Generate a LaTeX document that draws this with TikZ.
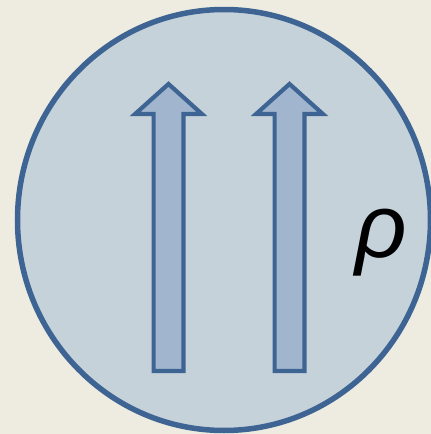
\documentclass[tikz,border=0pt]{standalone}
\usepackage{fontspec}
\newfontfamily\rhofont{Liberation Sans}
\definecolor{bgbeige}{RGB}{238,236,225}
\definecolor{ballfill}{RGB}{198,210,218}
\definecolor{ballline}{RGB}{62,100,148}
\definecolor{spinfill}{RGB}{161,182,206}
\begin{document}
\begin{tikzpicture}[x=1pt,y=-1pt]
	\path
	coordinate (ll) at (0,434)
	coordinate (ur) at (431,0)
	coordinate (ctr) at (224,220)
	coordinate (tipA) at (168.5,84)
	coordinate (tipB) at (289.5,84)
	;
	\fill[bgbeige] (0,0) rectangle (431,434);
	\useasboundingbox (0,0) rectangle (431,434);
	\filldraw[fill=ballfill, draw=ballline, line width=5.5pt]
	(ctr) ellipse [x radius=206.5, y radius=210.5];
	\filldraw[fill=spinfill, draw=ballline, line width=4.2pt, line join=miter]
	(tipA) --
	++(33.4,30) --
	++(-18.5,0) --
	++(0,257) --
	++(-29.8,0) --
	++(0,-257) --
	++(-18.5,0) -- cycle;
	\filldraw[fill=spinfill, draw=ballline, line width=4.2pt, line join=miter]
	(tipB) --
	++(33.4,30) --
	++(-18.5,0) --
	++(0,257) --
	++(-29.8,0) --
	++(0,-257) --
	++(-18.5,0) -- cycle;
	\node (rho) at (381,243) {\rhofont\itshape\fontsize{90}{90}\selectfont ρ};
\end{tikzpicture}
\end{document}
